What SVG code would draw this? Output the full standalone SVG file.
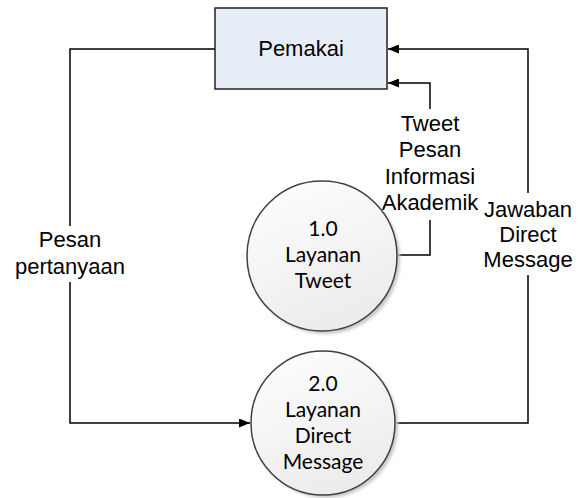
<svg xmlns="http://www.w3.org/2000/svg" width="584" height="498" viewBox="0 0 584 498">
  <style>
    .lbl { font-family: "Liberation Sans", Arial, sans-serif; font-size: 22px; fill: #000; text-anchor: middle; }
    .proc { font-family: Lato, "Open Sans", sans-serif; font-size: 21px; fill: #000; text-anchor: middle; }
    .conn { fill: none; stroke: #000; stroke-width: 1.5; }
    .circ { fill: url(#cg); stroke: #404040; stroke-width: 1.5; }
    .shadow { fill: #c8c8c8; filter: url(#blur); }
  </style>
  <defs>
    <linearGradient id="cg" x1="0" y1="0" x2="0.4" y2="1">
      <stop offset="0" stop-color="#ffffff"/>
      <stop offset="1" stop-color="#ececec"/>
    </linearGradient>
    <filter id="blur" x="-10%" y="-10%" width="120%" height="120%">
      <feGaussianBlur stdDeviation="1.5"/>
    </filter>
    <marker id="arr" markerUnits="userSpaceOnUse" markerWidth="11" markerHeight="9" refX="11" refY="4.5" orient="auto">
      <path d="M0,0 L11,4.5 L0,9 z" fill="#000"/>
    </marker>
  </defs>

  <g id="connectors">
    <!-- Pesan pertanyaan -->
    <polyline class="conn" points="215,49 70,49 70,226"/>
    <polyline class="conn" points="70,282 70,423 250,423" marker-end="url(#arr)"/>
    <text class="lbl" x="70" y="247">Pesan</text>
    <text class="lbl" x="70" y="274">pertanyaan</text>
    <!-- Tweet -->
    <polyline class="conn" points="397,255 430,255 430,220"/>
    <polyline class="conn" points="430,109 430,83 388,83" marker-end="url(#arr)"/>
    <text class="lbl" x="430" y="131">Tweet</text>
    <text class="lbl" x="430" y="157">Pesan</text>
    <text class="lbl" x="430" y="184">Informasi</text>
    <text class="lbl" x="430" y="210">Akademik</text>
    <!-- Jawaban -->
    <polyline class="conn" points="395,423 528,423 528,275"/>
    <polyline class="conn" points="528,193 528,49 388,49" marker-end="url(#arr)"/>
    <text class="lbl" x="528" y="217">Jawaban</text>
    <text class="lbl" x="528" y="242">Direct</text>
    <text class="lbl" x="528" y="267">Message</text>
  </g>

  <g id="pemakai">
    <rect x="215" y="8" width="172" height="81" fill="#e8eef8" stroke="#202020" stroke-width="1.5"/>
    <text class="lbl" x="301" y="56">Pemakai</text>
  </g>

  <g id="p1">
    <circle class="shadow" cx="325" cy="259" r="75"/>
    <circle class="circ" cx="322" cy="256" r="75"/>
    <text class="proc" x="323" y="236">1.0</text>
    <text class="proc" x="323" y="262">Layanan</text>
    <text class="proc" x="323" y="288">Tweet</text>
  </g>

  <g id="p2">
    <circle class="shadow" cx="326" cy="426" r="72"/>
    <circle class="circ" cx="323" cy="423" r="72"/>
    <text class="proc" x="323" y="391">2.0</text>
    <text class="proc" x="323" y="417">Layanan</text>
    <text class="proc" x="323" y="443">Direct</text>
    <text class="proc" x="323" y="469">Message</text>
  </g>
</svg>
